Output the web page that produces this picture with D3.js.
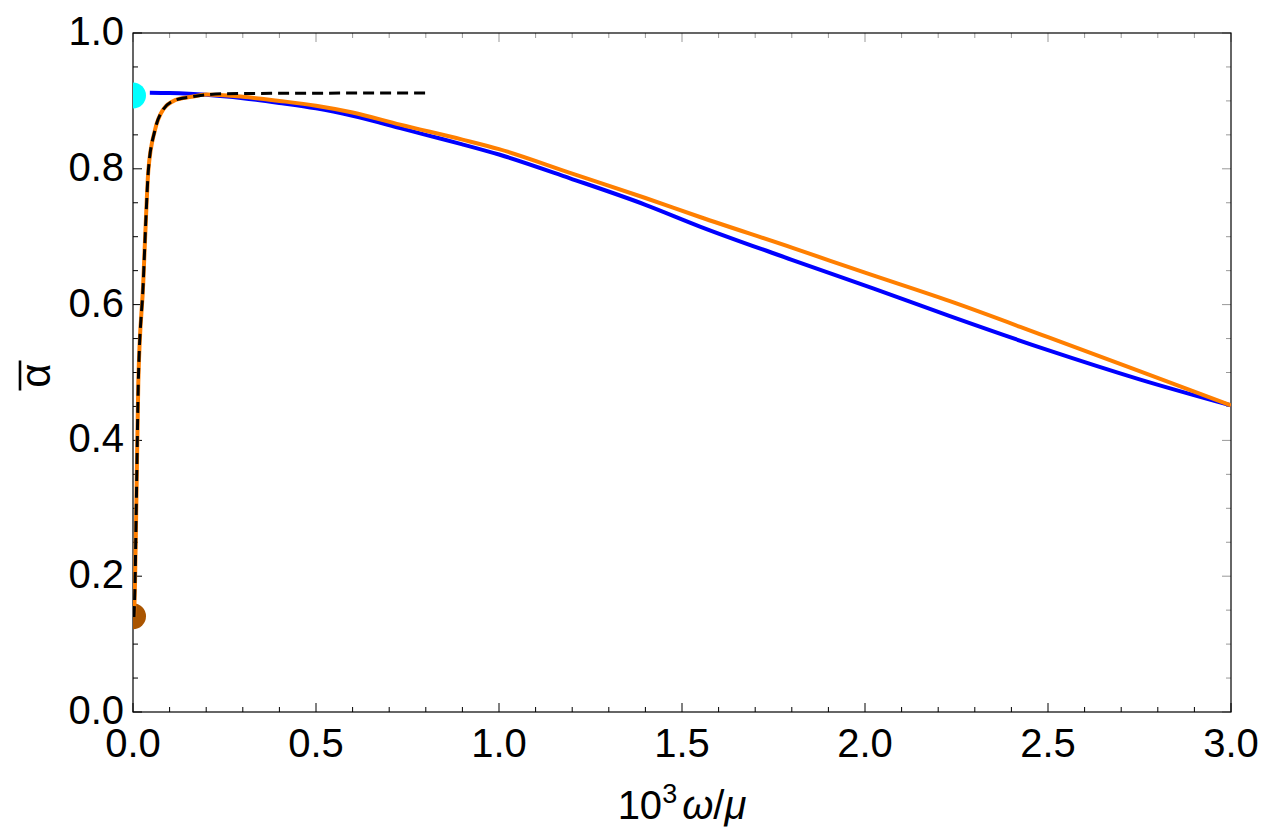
<!DOCTYPE html>
<html lang="en">
  <head>
    <meta charset="UTF-8" />
    <title>alpha bar vs omega/mu</title>
    <script src="https://d3js.org/d3.v7.min.js"></script>
    <style>
      body {
        margin: 0;
        background: #ffffff;
        font-family: "Liberation Sans", Arial, sans-serif;
      }
      .tick-label {
        font-size: 40px;
        fill: #000;
      }
    </style>
  </head>
  <body>
    <svg id="chart" width="1271" height="840"></svg>

    <script>
      // blue curve
      const blueX = [0.046, 0.1, 0.2, 0.3, 0.4, 0.5, 0.6, 0.73, 0.8, 0.9, 1.0, 1.194, 1.4, 1.549, 1.8, 2.022, 2.232, 2.5, 2.75, 3.0];
      const blueY = [0.912, 0.9115, 0.909, 0.904, 0.897, 0.889, 0.878, 0.86, 0.85, 0.836, 0.821, 0.786, 0.747, 0.715, 0.666, 0.624, 0.583, 0.533, 0.49, 0.4515];

      // orange curve
      const orangeX = [0.003, 0.0055, 0.01, 0.0145, 0.028, 0.0355, 0.042, 0.06, 0.082, 0.115, 0.16, 0.2, 0.3, 0.4, 0.5, 0.6, 0.73, 0.9, 1.0, 1.194, 1.4, 1.549, 1.8, 2.0, 2.232, 2.5, 2.75, 3.0];
      const orangeY = [0.14, 0.19, 0.337, 0.485, 0.632, 0.729, 0.798, 0.857, 0.887, 0.901, 0.906, 0.9095, 0.906, 0.9, 0.893, 0.883, 0.865, 0.843, 0.829, 0.794, 0.757, 0.729, 0.684, 0.647, 0.605, 0.552, 0.502, 0.4515];

      // dashed approximation
      const dashX = [0.003, 0.0055, 0.01, 0.0145, 0.028, 0.0355, 0.042, 0.06, 0.082, 0.115, 0.16, 0.2, 0.25, 0.4, 0.6, 0.806];
      const dashY = [0.14, 0.19, 0.337, 0.485, 0.632, 0.729, 0.798, 0.857, 0.887, 0.901, 0.906, 0.909, 0.9105, 0.9112, 0.9115, 0.9117];

      // end-point markers
      const markerX = [0, 0];
      const markerY = [0.908, 0.141];
      const markerColors = ["#00ffff", "#aa5500"];

      const xTicks = [0, 0.5, 1.0, 1.5, 2.0, 2.5, 3.0];
      const yTicks = [0, 0.2, 0.4, 0.6, 0.8, 1.0];

      const margin = {top: 33, right: 40, bottom: 128, left: 133};
      const width = 1271 - margin.left - margin.right;
      const height = 840 - margin.top - margin.bottom;

      const svg = d3.select("#chart");
      const g = svg.append("g").attr("transform", `translate(${margin.left},${margin.top})`);

      const x = d3.scaleLinear().domain([0, 3]).range([0, width]);
      const y = d3.scaleLinear().domain([0, 1]).range([height, 0]);

      svg.append("defs").append("clipPath").attr("id", "clip")
        .append("rect").attr("width", width).attr("height", height);

      // minor/major ticks on all four sides
      const xMinor = d3.range(0, 3.0001, 0.1);
      const yMinor = d3.range(0, 1.0001, 0.05);
      const isMajX = (v) => Math.abs(v * 2 - Math.round(v * 2)) < 1e-6;
      const isMajY = (v) => Math.abs(v * 5 - Math.round(v * 5)) < 1e-6;

      const ticks = g.append("g");
      xMinor.forEach((v) => {
        const len = isMajX(v) ? 9 : 5;
        ticks.append("line").attr("x1", x(v)).attr("x2", x(v)).attr("y1", height).attr("y2", height - len)
          .attr("stroke", "#000").attr("stroke-width", 1);
        ticks.append("line").attr("x1", x(v)).attr("x2", x(v)).attr("y1", 0).attr("y2", len)
          .attr("stroke", "#999").attr("stroke-width", 1);
      });
      yMinor.forEach((v) => {
        const len = isMajY(v) ? 9 : 5;
        ticks.append("line").attr("x1", 0).attr("x2", len).attr("y1", y(v)).attr("y2", y(v))
          .attr("stroke", "#000").attr("stroke-width", 1);
        ticks.append("line").attr("x1", width).attr("x2", width - len).attr("y1", y(v)).attr("y2", y(v))
          .attr("stroke", "#999").attr("stroke-width", 1);
      });

      // frame
      g.append("rect").attr("width", width).attr("height", height)
        .attr("fill", "none").attr("stroke", "#000").attr("stroke-width", 1.2);

      // tick labels
      g.selectAll(".xl").data(xTicks).join("text")
        .attr("class", "tick-label")
        .attr("x", (d) => x(d)).attr("y", height + 45)
        .attr("text-anchor", "middle")
        .text((d) => d.toFixed(1));
      g.selectAll(".yl").data(yTicks).join("text")
        .attr("class", "tick-label")
        .attr("x", -9).attr("y", (d) => y(d) + 12)
        .attr("text-anchor", "end")
        .text((d) => d.toFixed(1));

      // axis titles
      const xt = svg.append("text").attr("x", margin.left + x(1.5)).attr("y", 819)
        .attr("text-anchor", "middle").attr("font-size", 40);
      xt.append("tspan").text("10");
      xt.append("tspan").attr("font-size", 27).attr("dy", -16).text("3");
      xt.append("tspan").attr("dy", 16).attr("dx", 5).attr("font-style", "italic").text("ω");
      xt.append("tspan").text("/");
      xt.append("tspan").attr("font-style", "italic").text("μ");

      const yt = svg.append("g").attr("transform", `translate(50, ${margin.top + y(0.5) + 3}) rotate(-90)`);
      yt.append("text").attr("text-anchor", "middle").attr("font-size", 42).text("α");
      yt.append("line").attr("x1", -15).attr("x2", 15).attr("y1", -30).attr("y2", -30)
        .attr("stroke", "#000").attr("stroke-width", 2.6);

      const plot = g.append("g").attr("clip-path", "url(#clip)");

      plot.selectAll("circle").data(markerX).join("circle")
        .attr("cx", (d) => x(d)).attr("cy", (d, i) => y(markerY[i]))
        .attr("r", 13).attr("fill", (d, i) => markerColors[i]);

      const line = d3.line().x((d) => x(d[0])).y((d) => y(d[1])).curve(d3.curveMonotoneX);
      const zip = (a, b) => a.map((v, i) => [v, b[i]]);

      plot.append("path").datum(zip(blueX, blueY)).attr("d", line)
        .attr("fill", "none").attr("stroke", "#0000ff").attr("stroke-width", 4);
      plot.append("path").datum(zip(orangeX, orangeY)).attr("d", line)
        .attr("fill", "none").attr("stroke", "#ff7f00").attr("stroke-width", 4);
      plot.append("path").datum(zip(dashX, dashY)).attr("d", line)
        .attr("fill", "none").attr("stroke", "#000").attr("stroke-width", 3)
        .attr("stroke-dasharray", "11,6");
    </script>
  </body>
</html>
